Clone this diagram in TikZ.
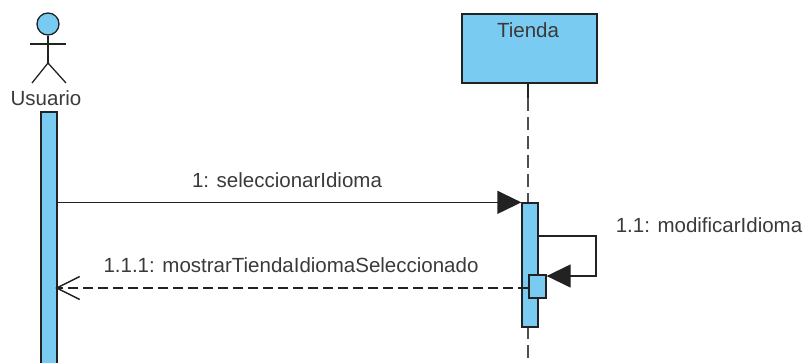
\documentclass[tikz,border=0pt]{standalone}
\usepackage{fontspec}
\setmainfont{Liberation Sans}
\usetikzlibrary{arrows.meta}
\definecolor{umlblue}{HTML}{79CBF1}
\definecolor{umlline}{HTML}{222222}
\definecolor{umltext}{HTML}{3A3A3A}
\tikzset{
  lbl/.style={text=umltext, font=\fontsize{20.5}{24}\selectfont, inner sep=0pt},
  actbar/.style={draw=umlline, fill=umlblue, line width=1.3pt, inner sep=0pt, minimum width=16pt},
  lifebox/.style={draw=umlline, fill=umlblue, line width=1.6pt, inner sep=0pt, minimum width=135pt, minimum height=69pt},
  msg/.style={draw=umlline, line width=1.3pt},
  lifeline/.style={draw=umlline!80, line width=1.4pt, dash pattern=on 13pt off 6pt},
  syncarrow/.style={-{Triangle[length=24pt,width=23pt]}},
  retarrow/.style={dash pattern=on 10pt off 5pt, shorten >=-2.5pt, -{Straight Barb[length=23pt,width=23pt,line width=1.4pt]}}
}
\begin{document}
\begin{tikzpicture}[x=1pt,y=-1pt]
\useasboundingbox (0,0) rectangle (808,362);
% actor
\node[circle, draw=umlline, fill=umlblue, line width=1.3pt, minimum size=22pt, inner sep=0pt] (head) at (48,24) {};
\coordinate (hip) at (48,63);
\coordinate (larm) at (30,44);
\coordinate (rarm) at (66,44);
\coordinate (lfoot) at (32,83);
\coordinate (rfoot) at (66,83);
\draw[msg] (head.south) -- (hip);
\draw[msg] (larm) -- (rarm);
\draw[msg] (lfoot) -- (hip) -- (rfoot);
\node[lbl] (usr) at (46,98) {Usuario};
% actor activation
\node[actbar, minimum height=258pt] (aact) at (49,241) {};
% Tienda lifeline
\node[lifebox, anchor=north west] (tbox) at (461,13) {};
\node[lbl] (tname) at (528,30) {Tienda};
\coordinate (lend) at (528,362);
\coordinate (lsolid) at (528,98);
\draw[msg] (tbox.south -| lend) -- (lsolid);
\draw[lifeline] (lsolid) -- (lend);
\node[actbar, minimum height=124pt] (tact) at (530,265) {};
\node[actbar, minimum width=17pt, minimum height=23pt] (nact) at (537.5,286.5) {};
% message 1
\draw[msg, syncarrow] (aact.east |- tact.north) -- (tact.north west);
\node[lbl] (m1) at (287,180) {1: seleccionarIdioma};
% self message
\coordinate (sc1) at (596,236);
\coordinate (sc2) at (596,276);
\draw[msg, syncarrow] (tact.east |- sc1) -- (sc1) -- (sc2) -- (nact.east |- sc2);
\node[lbl] (m2) at (709,225) {1.1: modificarIdioma};
% return
\coordinate (ry) at (0,288);
\draw[msg, retarrow] (nact.west |- ry) -- (aact.east |- ry);
\node[lbl] (m3) at (291,265) {1.1.1: mostrarTiendaIdiomaSeleccionado};
\end{tikzpicture}
\end{document}
